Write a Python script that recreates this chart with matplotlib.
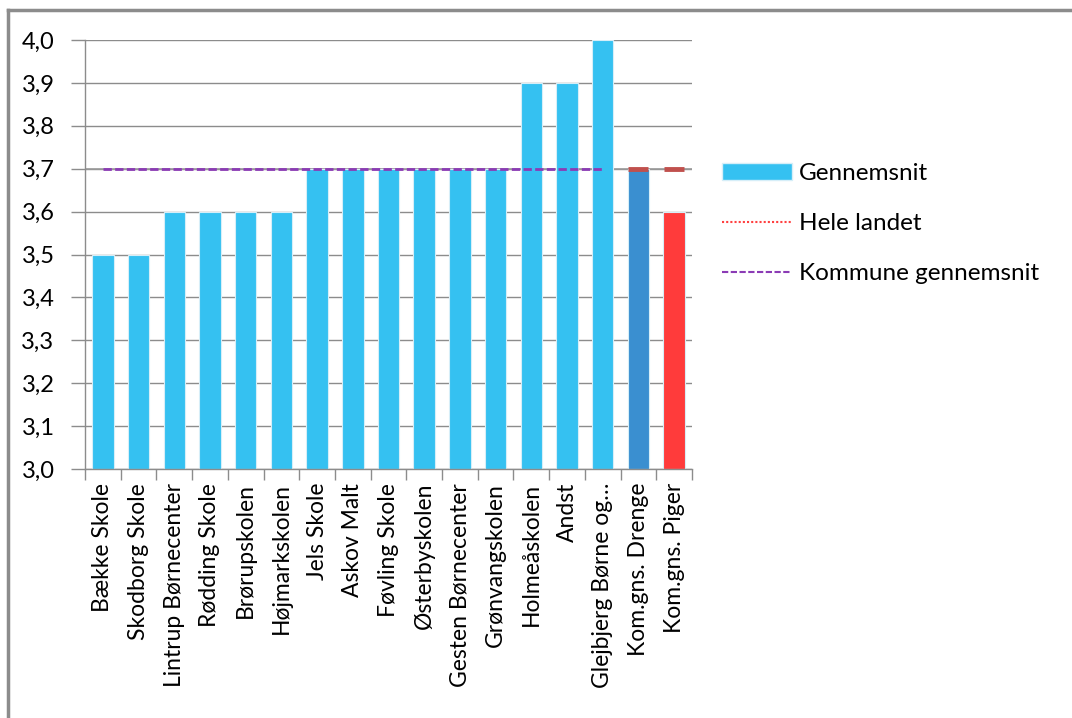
import numpy as np
import matplotlib
matplotlib.use("Agg")
import matplotlib.pyplot as plt
from matplotlib.lines import Line2D
from matplotlib.patches import Patch

plt.rcParams['font.family'] = ['Lato', 'DejaVu Sans']

schools = ["Bække Skole", "Skodborg Skole", "Lintrup Børnecenter", "Rødding Skole",
           "Brørupskolen", "Højmarkskolen", "Jels Skole", "Askov Malt",
           "Føvling Skole", "Østerbyskolen", "Gesten Børnecenter", "Grønvangskolen",
           "Holmeåskolen", "Andst", "Glejbjerg Børne og…", "Kom.gns. Drenge",
           "Kom.gns. Piger"]
gennemsnit = [3.5, 3.5, 3.6, 3.6, 3.6, 3.6, 3.7, 3.7, 3.7, 3.7, 3.7, 3.7,
              3.9, 3.9, 4.0, 3.7, 3.6]
hele_landet = [3.7, 3.7]          # only shown for the two kommune columns
kommune_gns = [3.7] * 15          # dashed line across the schools

bar_colors = ["#35C1F1"] * 15 + ["#3A8FD0", "#FF3B3B"]

W, H = 1072, 718
fig = plt.figure(figsize=(W / 100, H / 100), dpi=100)
ax = fig.add_axes([85 / W, 1 - 469 / H, (692 - 85) / W, (469 - 40) / H])

x = np.arange(len(schools))
ax.bar(x, np.array(gennemsnit) - 3.0, bottom=3.0, width=0.6, color=bar_colors,
       edgecolor="#D6EEF8", linewidth=0.8, zorder=2)

# hele landet: grey line at national level with red markers for the two last columns
ax.axhline(hele_landet[0], color="#9A9A9A", lw=1.2, zorder=1)
ax.plot(x[-2:], hele_landet, ls="none", marker="_", ms=14, mew=3.5,
        color="#C0504D", zorder=4)
ax.plot(x[:15], kommune_gns, ls=(0, (3, 1.2)), color="#8B3BB5", lw=2, zorder=3)

ax.set_xlim(-0.5, len(schools) - 0.5)
ax.set_ylim(3.0, 4.0)
yt = np.round(np.arange(3.0, 4.01, 0.1), 1)
ax.set_yticks(yt)
ax.set_yticklabels([f"{v:.1f}".replace(".", ",") for v in yt], fontsize=17)
ax.yaxis.grid(True, color="#8C8C8C", lw=1, zorder=0)
ax.set_axisbelow(True)

ax.set_xticks(x)
ax.set_xticklabels(schools, rotation=90, fontsize=16.5)
ax.set_xticks(np.arange(-0.5, len(schools)), minor=True)
ax.tick_params(axis="x", which="major", length=0, pad=10)
ax.tick_params(axis="x", which="minor", length=8, color="#8C8C8C", width=1)
ax.tick_params(axis="y", length=10, color="#8C8C8C", width=1, pad=12)

for s in ["top", "right"]:
    ax.spines[s].set_visible(False)
for s in ["left", "bottom"]:
    ax.spines[s].set_color("#8C8C8C")
    ax.spines[s].set_linewidth(1)

handles = [Patch(facecolor="#35C1F1", edgecolor="#D6EEF8"),
           Line2D([], [], color="#FF4040", ls=(0, (1, 1)), lw=1.5),
           Line2D([], [], color="#8B3BB5", ls=(0, (3, 1.2)), lw=1.5)]
fig.legend(handles, ["Gennemsnit", "Hele landet", "Kommune gennemsnit"],
           loc="upper left", bbox_to_anchor=(722 / W, 1 - 163 / H), frameon=False,
           fontsize=17.5, handlelength=2.9, labelspacing=1.2, handletextpad=0.25,
           borderpad=0, borderaxespad=0)

# outer frame of the chart area
fig.add_artist(Line2D([8 / W, 8 / W], [0, 1 - 10 / H], color="#8C8C8C", lw=2.5,
                      transform=fig.transFigure))
fig.add_artist(Line2D([8 / W, 1], [1 - 10 / H, 1 - 10 / H], color="#8C8C8C", lw=2.5,
                      transform=fig.transFigure))

fig.savefig("out.png", dpi=100)
